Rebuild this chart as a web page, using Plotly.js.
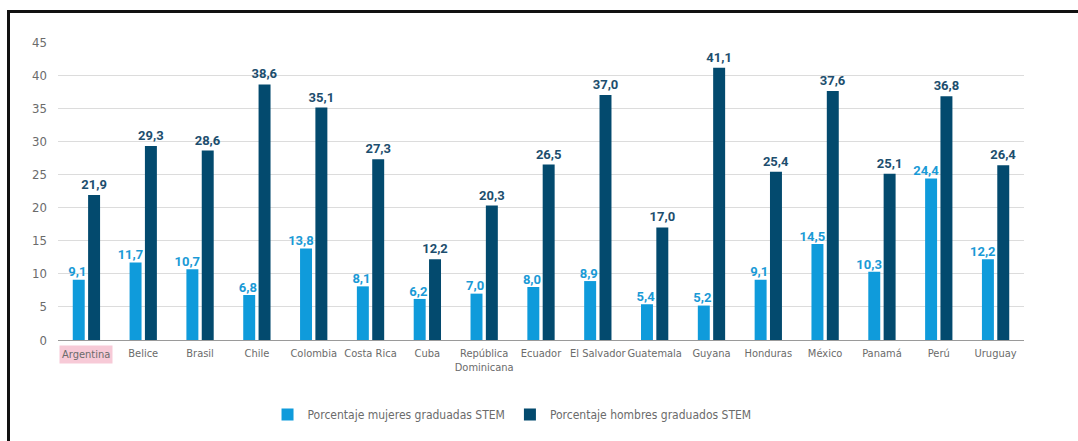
<!DOCTYPE html>
<html>
<head>
<meta charset="utf-8">
<script src="https://cdn.plot.ly/plotly-3.0.1.min.js"></script>
<style>
  html, body { margin: 0; padding: 0; background: #fff; overflow: hidden; }
  #wrap { position: relative; width: 1078px; height: 441px; }
  #chart { position: absolute; left: 0; top: 0; width: 1078px; height: 441px; }
  #frame { position: absolute; left: 7px; top: 10px; width: 1200px; height: 600px;
           border: 3px solid #111; pointer-events: none; box-sizing: border-box; }
</style>
</head>
<body>
<div id="wrap">
  <div id="chart"></div>
  <div id="frame"></div>
</div>
<script>
const categories = ["Argentina", "Belice", "Brasil", "Chile", "Colombia", "Costa Rica", "Cuba",
  "República<br>Dominicana", "Ecuador", "El Salvador", "Guatemala", "Guyana", "Honduras",
  "México", "Panamá", "Perú", "Uruguay"];
const mujeres = [9.1, 11.7, 10.7, 6.8, 13.8, 8.1, 6.2, 7.0, 8.0, 8.9, 5.4, 5.2, 9.1, 14.5, 10.3, 24.4, 12.2];
const hombres = [21.9, 29.3, 28.6, 38.6, 35.1, 27.3, 12.2, 20.3, 26.5, 37.0, 17.0, 41.1, 25.4, 37.6, 25.1, 36.8, 26.4];
const seriesNames = ["Porcentaje mujeres graduadas STEM", "Porcentaje hombres graduados STEM"];
const highlighted = "Argentina";
const yTicks = [0, 5, 10, 15, 20, 25, 30, 35, 40, 45];

const FONT = "'DejaVu Sans Condensed', 'Liberation Sans Narrow', Roboto, sans-serif";
const NUMFONT = "Roboto, 'DejaVu Sans Condensed', sans-serif";
const LIGHT = "#0f9bdb";
const DARK = "#034a6e";

const traces = [
  {
    type: "bar", name: seriesNames[0], x: categories, y: mujeres,
    marker: { color: LIGHT },
    hoverinfo: "x+y"
  },
  {
    type: "bar", name: seriesNames[1], x: categories, y: hombres,
    marker: { color: DARK },
    texttemplate: "%{y:.1f}", textposition: "outside", cliponaxis: false, constraintext: "none",
    textfont: { family: NUMFONT, size: 13, color: "#1d4e6e", weight: "bold" },
    hoverinfo: "x+y"
  },
  {
    type: "scatter", mode: "text", x: categories, y: mujeres, showlegend: false,
    texttemplate: "%{y:.1f}", textposition: "top left", cliponaxis: false,
    textfont: { family: NUMFONT, size: 13, color: "#1a9ad6", weight: "bold" },
    hoverinfo: "skip"
  }
];

const layout = {
  width: 1078, height: 441,
  margin: { l: 58, r: 54, t: 42, b: 98 },
  paper_bgcolor: "#ffffff", plot_bgcolor: "#ffffff",
  separators: ",.",
  font: { family: FONT, size: 11, color: "#6b6b6b" },
  barmode: "group", bargap: 0.46, bargroupgap: 0.22,
  showlegend: true,
  legend: {
    orientation: "h", x: 0.47, xanchor: "center", y: -0.25, yanchor: "middle",
    font: { family: FONT, size: 12, color: "#6b6b6b" }, itemwidth: 30
  },
  xaxis: {
    type: "category", tickvals: categories,
    ticktext: categories.map(c => c === highlighted ? " " : c),
    range: [-0.5, categories.length - 0.5],
    tickangle: 0, ticklabelstandoff: 5,
    showgrid: false, showline: false, ticks: "",
    tickfont: { family: FONT, size: 11, color: "#6b6b6b" }
  },
  yaxis: {
    range: [0, 45], tickvals: yTicks, showgrid: true, gridcolor: "#dcdcdc", gridwidth: 1,
    zeroline: true, zerolinecolor: "#9a9a9a", zerolinewidth: 1,
    ticks: "", ticklabelstandoff: 10,
    tickfont: { family: FONT, size: 13, color: "#6b6b6b" }
  },
  annotations: [{
    xref: "x", yref: "paper", x: highlighted, y: -0.017, yanchor: "top",
    text: highlighted, showarrow: false, bgcolor: "#f7cad7", borderpad: 2,
    font: { family: FONT, size: 11, color: "#6b6b6b" }
  }]
};

Plotly.newPlot("chart", traces, layout, { displayModeBar: false, staticPlot: true });
</script>
</body>
</html>
